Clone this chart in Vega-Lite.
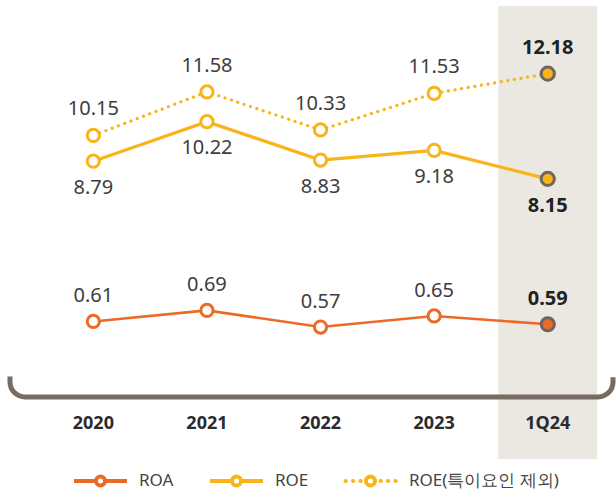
{
  "$schema": "https://vega.github.io/schema/vega-lite/v6.json",
  "width": 603,
  "height": 453,
  "autosize": {"type": "none"},
  "padding": {"left": 10, "right": 3, "top": 6, "bottom": 33},
  "background": "#ffffff",
  "config": {"view": {"stroke": null}, "font": "Noto Sans"},
  "datasets": {
    "rates": [
      {"period": "2020", "series": "ROA", "value": 0.61},
      {"period": "2021", "series": "ROA", "value": 0.69},
      {"period": "2022", "series": "ROA", "value": 0.57},
      {"period": "2023", "series": "ROA", "value": 0.65},
      {"period": "1Q24", "series": "ROA", "value": 0.59},
      {"period": "2020", "series": "ROE", "value": 8.79},
      {"period": "2021", "series": "ROE", "value": 10.22},
      {"period": "2022", "series": "ROE", "value": 8.83},
      {"period": "2023", "series": "ROE", "value": 9.18},
      {"period": "1Q24", "series": "ROE", "value": 8.15},
      {"period": "2020", "series": "ROE(특이요인 제외)", "value": 10.15},
      {"period": "2021", "series": "ROE(특이요인 제외)", "value": 11.58},
      {"period": "2022", "series": "ROE(특이요인 제외)", "value": 10.33},
      {"period": "2023", "series": "ROE(특이요인 제외)", "value": 11.53},
      {"period": "1Q24", "series": "ROE(특이요인 제외)", "value": 12.18}
    ]
  },
  "data": {"name": "rates"},
  "layer": [
    {
      "transform": [{"filter": "datum.period === '1Q24' && datum.series === 'ROA'"}],
      "mark": {"type": "rect", "color": "#EBE8E2"},
      "encoding": {
        "x": {"field": "period", "type": "nominal", "sort": null,
          "scale": {"type": "band", "domain": ["2020", "2021", "2022", "2023", "1Q24"], "paddingInner": 0.13, "paddingOuter": 0.219, "align": 0.682},
          "axis": {"orient": "bottom", "title": null, "domain": false, "ticks": false, "tickSize": 0, "labelAngle": 0, "labelFontSize": 18, "labelFontWeight": "bold", "labelColor": "#2b2b2b", "labelFont": "Noto Sans", "labelPadding": 0, "offset": -45, "zindex": 1}}
      }
    },
    {
      "data": {"values": [{}]},
      "mark": {"type": "rect", "filled": false, "stroke": "#766C62", "strokeWidth": 5, "cornerRadius": 15, "strokeDash": [0, 601.56, 630.12, 1000]},
      "encoding": {
        "y": {"datum": 0.2252, "type": "quantitative", "scale": {"domain": [0, 1], "zero": false, "nice": false}, "axis": null},
        "y2": {"datum": 0.1369}
      }
    },
    {
      "encoding": {
        "x": {"field": "period", "type": "nominal", "sort": null,
          "scale": {"type": "band", "domain": ["2020", "2021", "2022", "2023", "1Q24"], "paddingInner": 0.13, "paddingOuter": 0.219, "align": 0.682},
          "axis": {"orient": "bottom", "title": null, "domain": false, "ticks": false, "tickSize": 0, "labelAngle": 0, "labelFontSize": 18, "labelFontWeight": "bold", "labelColor": "#2b2b2b", "labelFont": "Noto Sans", "labelPadding": 0, "offset": -45, "zindex": 1}}
      },
      "layer": [
        {
          "transform": [{"filter": "datum.series === 'ROA'"}],
          "encoding": {"y": {"field": "value", "type": "quantitative", "scale": {"domain": [-0.383, 2.888], "zero": false, "nice": false}, "axis": null}},
          "layer": [
            {
              "mark": {"type": "line", "strokeWidth": 2.6},
              "encoding": {
                "order": {"value": null},
                "color": {"field": "series", "type": "nominal",
                  "scale": {"domain": ["ROA", "ROE", "ROE(특이요인 제외)"], "range": ["#EC6A25", "#F8B418", "#F8B418"]},
                  "legend": {"title": null, "orient": "none", "legendX": 62, "legendY": 446, "direction": "horizontal", "symbolType": "M-1,0H1", "symbolSize": 2809, "symbolStrokeWidth": 4, "labelFontSize": 17, "labelFont": "Noto Sans", "labelColor": "#444444", "labelOffset": 10, "columnPadding": 28, "padding": 0,
                    "encode": {"symbols": {"update": {
                      "shape": {"signal": "datum.value === 'ROE(특이요인 제외)' ? 'M-0.94,0h0.01M-0.66,0h0.01M-0.38,0h0.01M0.38,0h0.01M0.66,0h0.01M0.94,0h0.01M0.17,0A0.17,0.17 0 1,1 -0.17,0A0.17,0.17 0 1,1 0.17,0Z' : 'M-1,0H-0.17M0.17,0H1M0.17,0A0.17,0.17 0 1,1 -0.17,0A0.17,0.17 0 1,1 0.17,0Z'"},
                      "strokeCap": {"signal": "datum.value === 'ROE(특이요인 제외)' ? 'round' : 'butt'"},
                      "fill": {"value": "#ffffff"}
                    }}}}
                }
              }
            },
            {
              "mark": {"type": "point", "shape": "circle", "filled": true, "strokeWidth": 3, "opacity": 1},
              "encoding": {
                "size": {"condition": {"test": "datum.period === '1Q24'", "value": 175}, "value": 150},
                "fill": {"condition": {"test": "datum.period === '1Q24'", "value": "#EC6A25"}, "value": "#ffffff"},
                "stroke": {"condition": {"test": "datum.period === '1Q24'", "value": "#6F665D"}, "value": "#EC6A25"}
              }
            },
            {
              "transform": [{"filter": "datum.period !== '1Q24'"}],
              "mark": {"type": "text", "dy": -25, "fontSize": 20, "color": "#3d3d3d"},
              "encoding": {"text": {"field": "value", "type": "quantitative", "format": ".2f"}}
            },
            {
              "transform": [{"filter": "datum.period === '1Q24'"}],
              "mark": {"type": "text", "dy": -25, "fontSize": 20, "fontWeight": "bold", "color": "#222222"},
              "encoding": {"text": {"field": "value", "type": "quantitative", "format": ".2f"}}
            }
          ]
        },
        {
          "transform": [{"filter": "datum.series === 'ROE'"}],
          "encoding": {"y": {"field": "value", "type": "quantitative", "scale": {"domain": [-1.985, 14.404], "zero": false, "nice": false}, "axis": null}},
          "layer": [
            {
              "mark": {"type": "line", "strokeWidth": 3.2},
              "encoding": {
                "order": {"value": null},
                "color": {"field": "series", "type": "nominal",
                  "scale": {"domain": ["ROA", "ROE", "ROE(특이요인 제외)"], "range": ["#EC6A25", "#F8B418", "#F8B418"]},
                  "legend": {"title": null, "orient": "none", "legendX": 62, "legendY": 446, "direction": "horizontal", "symbolType": "M-1,0H1", "symbolSize": 2809, "symbolStrokeWidth": 4, "labelFontSize": 17, "labelFont": "Noto Sans", "labelColor": "#444444", "labelOffset": 10, "columnPadding": 28, "padding": 0,
                    "encode": {"symbols": {"update": {
                      "shape": {"signal": "datum.value === 'ROE(특이요인 제외)' ? 'M-0.94,0h0.01M-0.66,0h0.01M-0.38,0h0.01M0.38,0h0.01M0.66,0h0.01M0.94,0h0.01M0.17,0A0.17,0.17 0 1,1 -0.17,0A0.17,0.17 0 1,1 0.17,0Z' : 'M-1,0H-0.17M0.17,0H1M0.17,0A0.17,0.17 0 1,1 -0.17,0A0.17,0.17 0 1,1 0.17,0Z'"},
                      "strokeCap": {"signal": "datum.value === 'ROE(특이요인 제외)' ? 'round' : 'butt'"},
                      "fill": {"value": "#ffffff"}
                    }}}}
                }
              }
            },
            {
              "mark": {"type": "point", "shape": "circle", "filled": true, "strokeWidth": 3, "opacity": 1},
              "encoding": {
                "size": {"condition": {"test": "datum.period === '1Q24'", "value": 175}, "value": 150},
                "fill": {"condition": {"test": "datum.period === '1Q24'", "value": "#F8B418"}, "value": "#ffffff"},
                "stroke": {"condition": {"test": "datum.period === '1Q24'", "value": "#6F665D"}, "value": "#F8B418"}
              }
            },
            {
              "transform": [{"filter": "datum.period !== '1Q24'"}],
              "mark": {"type": "text", "dy": 26.5, "fontSize": 20, "color": "#3d3d3d"},
              "encoding": {"text": {"field": "value", "type": "quantitative", "format": ".2f"}}
            },
            {
              "transform": [{"filter": "datum.period === '1Q24'"}],
              "mark": {"type": "text", "dy": 27, "fontSize": 20, "fontWeight": "bold", "color": "#222222"},
              "encoding": {"text": {"field": "value", "type": "quantitative", "format": ".2f"}}
            }
          ]
        },
        {
          "transform": [{"filter": "datum.series === 'ROE(특이요인 제외)'"}],
          "encoding": {"y": {"field": "value", "type": "quantitative", "scale": {"domain": [-0.476, 14.401], "zero": false, "nice": false}, "axis": null}},
          "layer": [
            {
              "mark": {"type": "line", "strokeWidth": 3.2, "strokeDash": [0.1, 6.6], "strokeCap": "round"},
              "encoding": {
                "order": {"value": null},
                "color": {"field": "series", "type": "nominal",
                  "scale": {"domain": ["ROA", "ROE", "ROE(특이요인 제외)"], "range": ["#EC6A25", "#F8B418", "#F8B418"]},
                  "legend": {"title": null, "orient": "none", "legendX": 62, "legendY": 446, "direction": "horizontal", "symbolType": "M-1,0H1", "symbolSize": 2809, "symbolStrokeWidth": 4, "labelFontSize": 17, "labelFont": "Noto Sans", "labelColor": "#444444", "labelOffset": 10, "columnPadding": 28, "padding": 0,
                    "encode": {"symbols": {"update": {
                      "shape": {"signal": "datum.value === 'ROE(특이요인 제외)' ? 'M-0.94,0h0.01M-0.66,0h0.01M-0.38,0h0.01M0.38,0h0.01M0.66,0h0.01M0.94,0h0.01M0.17,0A0.17,0.17 0 1,1 -0.17,0A0.17,0.17 0 1,1 0.17,0Z' : 'M-1,0H-0.17M0.17,0H1M0.17,0A0.17,0.17 0 1,1 -0.17,0A0.17,0.17 0 1,1 0.17,0Z'"},
                      "strokeCap": {"signal": "datum.value === 'ROE(특이요인 제외)' ? 'round' : 'butt'"},
                      "fill": {"value": "#ffffff"}
                    }}}}
                }
              }
            },
            {
              "mark": {"type": "point", "shape": "circle", "filled": true, "strokeWidth": 3, "opacity": 1},
              "encoding": {
                "size": {"condition": {"test": "datum.period === '1Q24'", "value": 175}, "value": 150},
                "fill": {"condition": {"test": "datum.period === '1Q24'", "value": "#F8B418"}, "value": "#ffffff"},
                "stroke": {"condition": {"test": "datum.period === '1Q24'", "value": "#6F665D"}, "value": "#F8B418"}
              }
            },
            {
              "transform": [{"filter": "datum.period !== '1Q24'"}],
              "mark": {"type": "text", "dy": -26, "fontSize": 20, "color": "#3d3d3d"},
              "encoding": {"text": {"field": "value", "type": "quantitative", "format": ".2f"}}
            },
            {
              "transform": [{"filter": "datum.period === '1Q24'"}],
              "mark": {"type": "text", "dy": -26, "fontSize": 20, "fontWeight": "bold", "color": "#222222"},
              "encoding": {"text": {"field": "value", "type": "quantitative", "format": ".2f"}}
            }
          ]
        }
      ],
      "resolve": {"scale": {"y": "independent"}}
    }
  ],
  "resolve": {"scale": {"y": "independent"}}
}
